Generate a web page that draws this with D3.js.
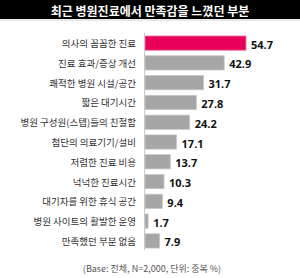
<!DOCTYPE html>
<html>
<head>
<meta charset="utf-8">
<script src="https://cdn.jsdelivr.net/npm/d3@7"></script>
<style>
  body { margin: 0; background: #fff; }
  svg { display: block; font-family: "Noto Sans CJK KR", "Noto Sans", sans-serif; }
</style>
</head>
<body>
<svg id="chart"></svg>
<script>
const W = 300;
const H = 278;

const categories = [
  '의사의 꼼꼼한 진료',
  '진료 효과/증상 개선',
  '쾌적한 병원 시설/공간',
  '짧은 대기시간',
  '병원 구성원(스텝)들의 친절함',
  '첨단의 의료기기/설비',
  '저렴한 진료 비용',
  '넉넉한 진료시간',
  '대기자를 위한 휴식 공간',
  '병원 사이트의 활발한 운영',
  '만족했던 부분 없음'
];
const values = [54.7, 42.9, 31.7, 27.8, 24.2, 17.1, 13.7, 10.3, 9.4, 1.7, 7.9];
const valueLabels = ['54.7', '42.9', '31.7', '27.8', '24.2', '17.1', '13.7', '10.3', '9.4', '1.7', '7.9'];
const titleText = '최근 병원진료에서 만족감을 느꼈던 부분';
const footnote = '(Base: 전체, N=2,000, 단위: 중복 %)';

const svg = d3.select('#chart').attr('width', W).attr('height', H);

// title band
svg.append('rect').attr('x', 0).attr('y', 0).attr('width', W).attr('height', 19).attr('fill', '#000');
svg.append('line').attr('x1', 0).attr('x2', W).attr('y1', 20).attr('y2', 20)
  .attr('stroke', '#d0d0d0').attr('stroke-width', 1);
svg.append('text')
  .attr('x', W / 2).attr('y', 10)
  .attr('text-anchor', 'middle').attr('dominant-baseline', 'central')
  .attr('fill', '#fff').attr('font-size', '12px').attr('font-weight', 'bold')
  .text(titleText);

const y = d3.scaleBand().domain(categories).range([34, 250]).paddingInner(0.28).paddingOuter(0.1);
const x = d3.scaleLinear().domain([0, 54.7]).range([145, 246]);

const data = categories.map((c, i) => ({ cat: c, val: values[i], lbl: valueLabels[i], i }));

// bars
svg.append('g').selectAll('rect')
  .data(data)
  .enter()
  .append('rect')
  .attr('x', x(0))
  .attr('y', d => y(d.cat))
  .attr('width', d => x(d.val) - x(0))
  .attr('height', y.bandwidth())
  .attr('fill', d => d.i === 0 ? '#e8005a' : '#a6a6a6')
  .attr('stroke', d => d.i === 0 ? '#f27aa6' : '#c8c8c8')
  .attr('stroke-width', 0.8);

// axis line
svg.append('line')
  .attr('x1', 144.5).attr('x2', 144.5).attr('y1', 33).attr('y2', 250)
  .attr('stroke', '#c8c8c8').attr('stroke-width', 1);

// category labels
svg.append('g').selectAll('text')
  .data(data)
  .enter()
  .append('text')
  .attr('x', 136)
  .attr('y', d => y(d.cat) + y.bandwidth() / 2)
  .attr('text-anchor', 'end').attr('dominant-baseline', 'central')
  .attr('fill', '#333').attr('font-size', '9.5px')
  .text(d => d.cat);

// value labels
svg.append('g').selectAll('text')
  .data(data)
  .enter()
  .append('text')
  .attr('x', d => x(d.val) + 5)
  .attr('y', d => y(d.cat) + y.bandwidth() / 2 + 1)
  .attr('dominant-baseline', 'central')
  .attr('fill', '#111').attr('font-size', '11px').attr('font-weight', 'bold')
  .attr('font-family', '"Open Sans", "Noto Sans", sans-serif')
  .text(d => d.lbl);

// footnote
svg.append('text')
  .attr('x', 152).attr('y', 268)
  .attr('text-anchor', 'middle').attr('dominant-baseline', 'central')
  .attr('fill', '#555').attr('font-size', '9px')
  .text(footnote);
</script>
</body>
</html>
